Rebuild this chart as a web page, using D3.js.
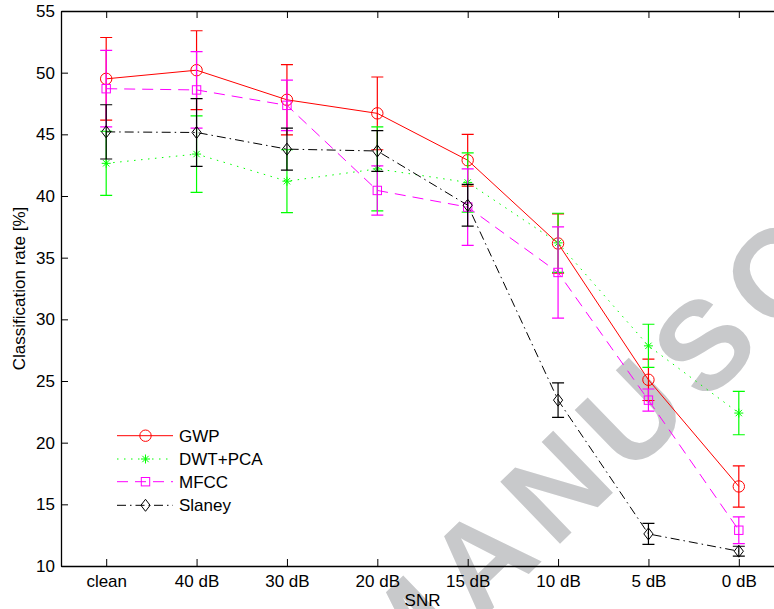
<!DOCTYPE html>
<html>
<head>
<meta charset="utf-8">
<script src="https://cdn.jsdelivr.net/npm/d3@7"></script>
<style>
  html, body { margin: 0; padding: 0; background: #fff; }
  svg { display: block; font-family: "Liberation Sans", Arial, sans-serif; }
</style>
</head>
<body>
<script>
const categories = ["clean", "40 dB", "30 dB", "20 dB", "15 dB", "10 dB", "5 dB", "0 dB"];
const yTicks = [10, 15, 20, 25, 30, 35, 40, 45, 50, 55];

const gwpValues = [49.5, 50.2, 47.8, 46.7, 42.9, 36.15, 25.1, 16.45];
const gwpErr    = [3.35, 3.2, 2.85, 2.95, 2.1, 2.4, 1.68, 1.67];
const dwtValues = [42.65, 43.4, 41.2, 42.2, 41.1, 36.2, 27.85, 22.4];
const dwtErr    = [2.6, 3.1, 2.55, 3.4, 2.4, 2.4, 1.75, 1.76];
const mfccValues = [48.7, 48.6, 47.35, 40.45, 39.1, 33.8, 23.45, 12.9];
const mfccErr    = [3.1, 3.1, 2.05, 2.0, 3.1, 3.7, 0.9, 1.08];
const slaneyValues = [45.2, 45.15, 43.8, 43.65, 39.25, 23.45, 12.6, 11.2];
const slaneyErr    = [2.2, 2.75, 1.7, 1.65, 1.7, 1.4, 0.85, 0.4];

const seriesNames = ["GWP", "DWT+PCA", "MFCC", "Slaney"];

const series = [
  { name: seriesNames[0], values: gwpValues, err: gwpErr, color: "#ff0000", dash: null, marker: "circle" },
  { name: seriesNames[1], values: dwtValues, err: dwtErr, color: "#00ff00", dash: "1.5 5.5", marker: "star" },
  { name: seriesNames[2], values: mfccValues, err: mfccErr, color: "#ff00ff", dash: "11 7", marker: "square" },
  { name: seriesNames[3], values: slaneyValues, err: slaneyErr, color: "#000000", dash: "9 4 1.5 4", marker: "diamond" }
];

const W = 774, H = 609;
const pL = 61, pR = 784, pT = 11, pB = 566;

const svg = d3.select("body").append("svg").attr("width", W).attr("height", H);

// watermark
svg.append("text")
  .attr("transform", "translate(394,704) rotate(-44)")
  .attr("font-size", 125)
  .attr("font-weight", "bold")
  .attr("letter-spacing", 14)
  .attr("fill", "#c8c9cb")
  .text("MANUSCRIPT");

const x = d3.scalePoint().domain(categories).range([pL, pR]).padding(0.5);
const y = d3.scaleLinear().domain([10, 55]).range([pB, pT]);

// axes
const gx = svg.append("g").attr("transform", `translate(0,${pB})`)
  .call(d3.axisBottom(x).tickSizeInner(-7).tickSizeOuter(0).tickPadding(9));
const gxTop = svg.append("g").attr("transform", `translate(0,${pT})`)
  .call(d3.axisTop(x).tickSizeInner(-7).tickSizeOuter(0).tickFormat(""));
const gy = svg.append("g").attr("transform", `translate(${pL},0)`)
  .call(d3.axisLeft(y).tickValues(yTicks).tickSizeInner(-7).tickSizeOuter(0).tickPadding(6));
const gyR = svg.append("g").attr("transform", `translate(${pR},0)`)
  .call(d3.axisRight(y).tickValues(yTicks).tickSizeInner(-7).tickSizeOuter(0).tickFormat(""));

[gx, gxTop, gy, gyR].forEach(g => {
  g.selectAll("path").attr("stroke", "#000").attr("stroke-width", 1.3);
  g.selectAll("line").attr("stroke", "#000").attr("stroke-width", 1);
  g.selectAll("text").attr("font-size", 17).attr("fill", "#000")
    .attr("font-family", "'Liberation Sans', Arial, sans-serif");
});

svg.append("text")
  .attr("x", (pL + pR) / 2).attr("y", 606)
  .attr("text-anchor", "middle").attr("font-size", 17).text("SNR");
svg.append("text")
  .attr("transform", `translate(25,${(pT + pB) / 2}) rotate(-90)`)
  .attr("text-anchor", "middle").attr("font-size", 17).text("Classification rate [%]");

function drawMarker(g, type, cx, cy, color) {
  if (type === "circle") {
    g.append("circle").attr("cx", cx).attr("cy", cy).attr("r", 5.7)
      .attr("fill", "none").attr("stroke", color).attr("stroke-width", 1);
  } else if (type === "square") {
    g.append("rect").attr("x", cx - 4.2).attr("y", cy - 4.2).attr("width", 8.4).attr("height", 8.4)
      .attr("fill", "none").attr("stroke", color).attr("stroke-width", 1);
  } else if (type === "diamond") {
    g.append("path").attr("d", `M${cx},${cy - 6}L${cx + 4.6},${cy}L${cx},${cy + 6}L${cx - 4.6},${cy}Z`)
      .attr("fill", "none").attr("stroke", color).attr("stroke-width", 1);
  } else if (type === "star") {
    const r = 4.5, d = r * 0.7071;
    g.append("path").attr("d",
      `M${cx - r},${cy}L${cx + r},${cy}M${cx},${cy - r}L${cx},${cy + r}` +
      `M${cx - d},${cy - d}L${cx + d},${cy + d}M${cx - d},${cy + d}L${cx + d},${cy - d}`)
      .attr("fill", "none").attr("stroke", color).attr("stroke-width", 1);
  }
}

const line = d3.line().x((d, i) => x(categories[i])).y(d => y(d));

series.forEach(s => {
  const g = svg.append("g");
  g.append("path").datum(s.values).attr("d", line)
    .attr("fill", "none").attr("stroke", s.color).attr("stroke-width", 1)
    .attr("stroke-dasharray", s.dash);
  s.values.forEach((v, i) => {
    const cx = x(categories[i]);
    const y1 = y(v + s.err[i]), y2 = y(v - s.err[i]);
    g.append("path")
      .attr("d", `M${cx},${y1}L${cx},${y2}M${cx - 6},${y1}L${cx + 6},${y1}M${cx - 6},${y2}L${cx + 6},${y2}`)
      .attr("fill", "none").attr("stroke", s.color).attr("stroke-width", 1.2);
  });
  s.values.forEach((v, i) => drawMarker(g, s.marker, x(categories[i]), y(v), s.color));
});

// legend
const legY = [435.7, 459, 481.7, 505.3];
series.forEach((s, i) => {
  const g = svg.append("g");
  g.append("line").attr("x1", 117).attr("x2", 173).attr("y1", legY[i]).attr("y2", legY[i])
    .attr("stroke", s.color).attr("stroke-width", 1).attr("stroke-dasharray", s.dash);
  drawMarker(g, s.marker, 145.5, legY[i], s.color);
  g.append("text").attr("x", 179).attr("y", legY[i]).attr("dy", "0.35em")
    .attr("font-size", 17).text(s.name);
});
</script>
</body>
</html>
